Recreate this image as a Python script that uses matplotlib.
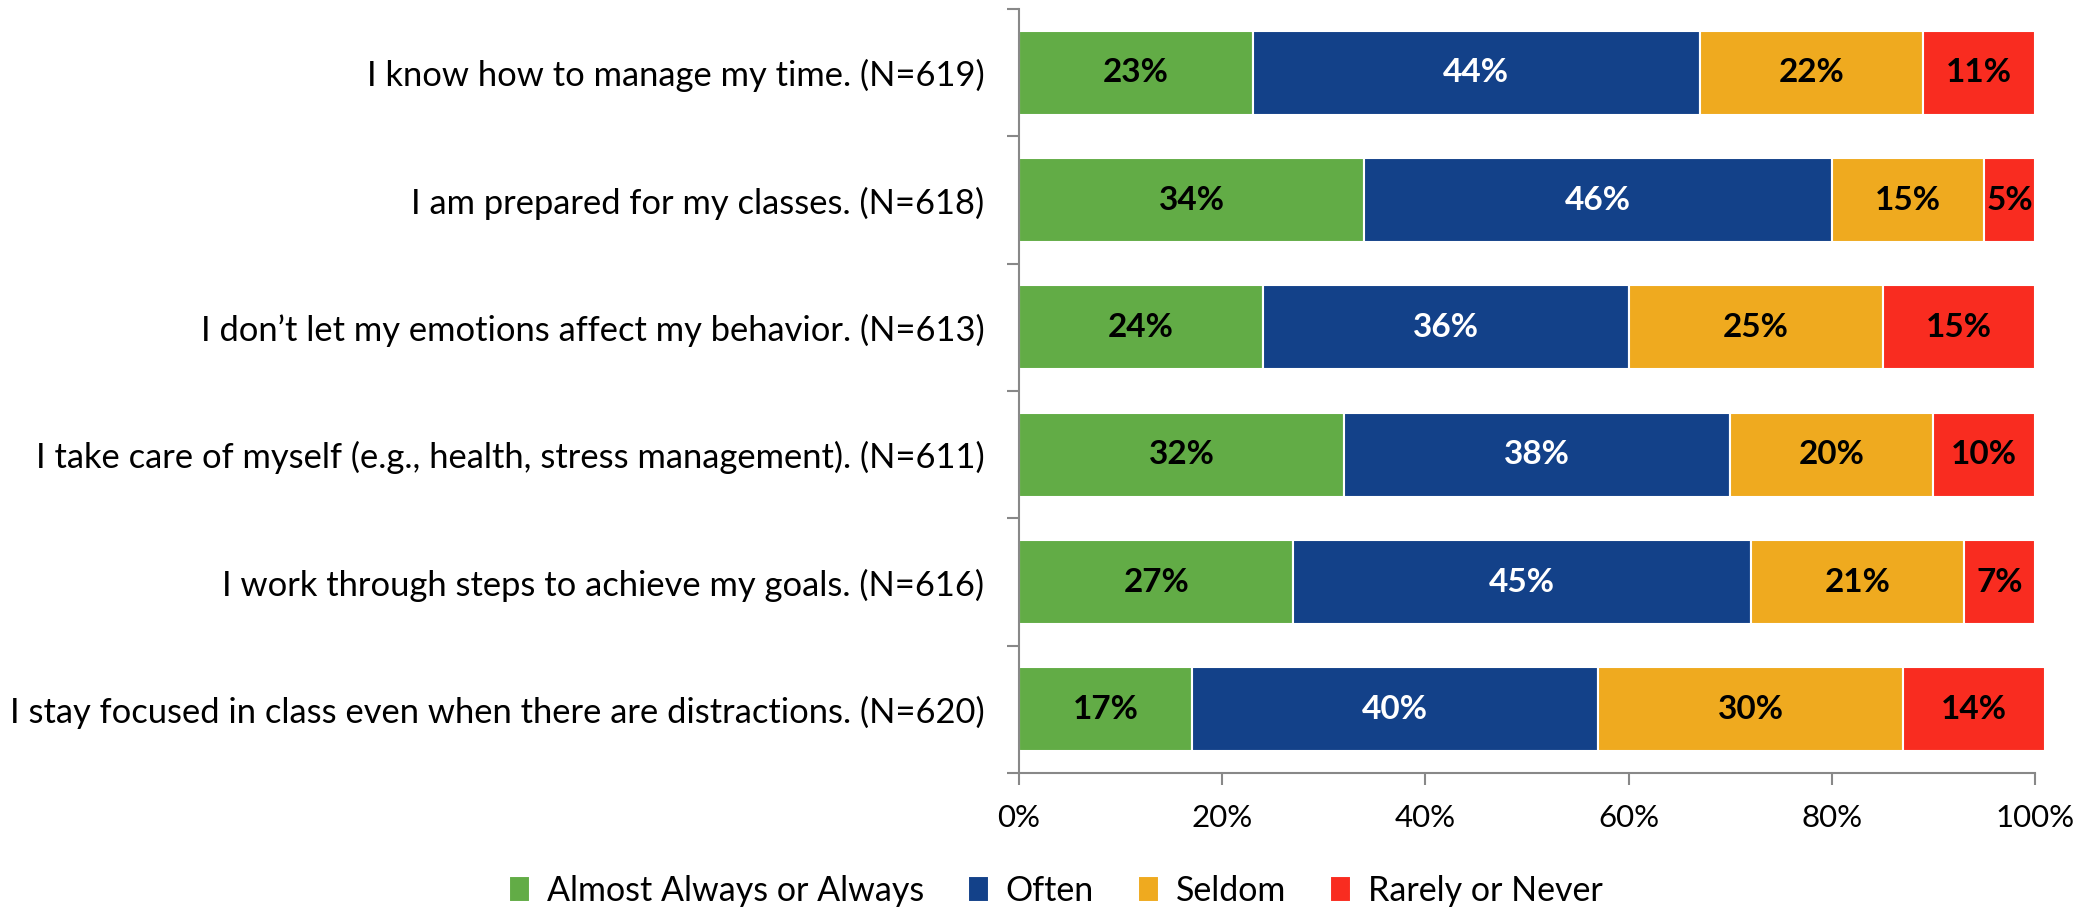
import matplotlib
matplotlib.use("Agg")
import matplotlib.pyplot as plt
import numpy as np

plt.rcParams['font.family'] = ['Lato', 'DejaVu Sans']

statements = [
    "I know how to manage my time. (N=619)",
    "I am prepared for my classes. (N=618)",
    "I don\u2019t let my emotions affect my behavior. (N=613)",
    "I take care of myself (e.g., health, stress management). (N=611)",
    "I work through steps to achieve my goals. (N=616)",
    "I stay focused in class even when there are distractions. (N=620)",
]
almost_always = [23, 34, 24, 32, 27, 17]
often = [44, 46, 36, 38, 45, 40]
seldom = [22, 15, 25, 20, 21, 30]
rarely = [11, 5, 15, 10, 7, 14]

series_names = ["Almost Always or Always", "Often", "Seldom", "Rarely or Never"]
series_values = [almost_always, often, seldom, rarely]
series_colors = ["#62AC46", "#134189", "#EFAA1F", "#F92C20"]
label_colors = ["black", "white", "black", "black"]
x_ticks = [0, 20, 40, 60, 80, 100]

W, H, DPI = 2094, 910, 100
fig = plt.figure(figsize=(W / DPI, H / DPI), dpi=DPI)
ax = fig.add_axes([1019 / W, 1 - 773 / H, (2035 - 1019) / W, (773 - 9) / H])

y = np.arange(len(statements))
left = np.zeros(len(statements))
handles = []
for name, vals, col, lcol in zip(series_names, series_values, series_colors, label_colors):
    vals = np.array(vals, dtype=float)
    bars = ax.barh(y, vals / 100.0, left=left / 100.0, height=0.66, color=col,
                   edgecolor="white", linewidth=1.5, label=name, clip_on=False)
    handles.append(bars)
    for yi, v, l in zip(y, vals, left):
        ax.text((l + v / 2) / 100.0, yi, f"{int(v)}%", ha="center", va="center",
                color=lcol, fontsize=24, fontweight="bold")
    left += vals

ax.set_xlim(0, 1)
ax.set_ylim(len(statements) - 0.5, -0.5)
ax.set_xticks([t / 100 for t in x_ticks])
ax.set_xticklabels([f"{t}%" for t in x_ticks])
ax.set_yticks(y)
ax.set_yticklabels(statements)
ax.set_yticks(np.arange(len(statements) + 1) - 0.5, minor=True)

spine_col = "#888888"
for s in ["top", "right"]:
    ax.spines[s].set_visible(False)
for s in ["left", "bottom"]:
    ax.spines[s].set_color(spine_col)
    ax.spines[s].set_linewidth(1.5)

ax.tick_params(axis="y", which="major", length=0, pad=25, labelsize=24.8)
ax.tick_params(axis="y", which="minor", length=8.5, width=1.5, color=spine_col)
ax.tick_params(axis="x", which="major", length=8.5, width=1.5, color=spine_col,
               pad=14, labelsize=22.5)

fig.legend(handles=handles, labels=series_names, loc="center",
           bbox_to_anchor=(1056 / W, 1 - 891 / H), ncol=4, frameon=False,
           fontsize=24.5, handlelength=0.6, handleheight=0.8, handletextpad=0.5,
           columnspacing=1.3)

fig.savefig("out.png", dpi=DPI)
